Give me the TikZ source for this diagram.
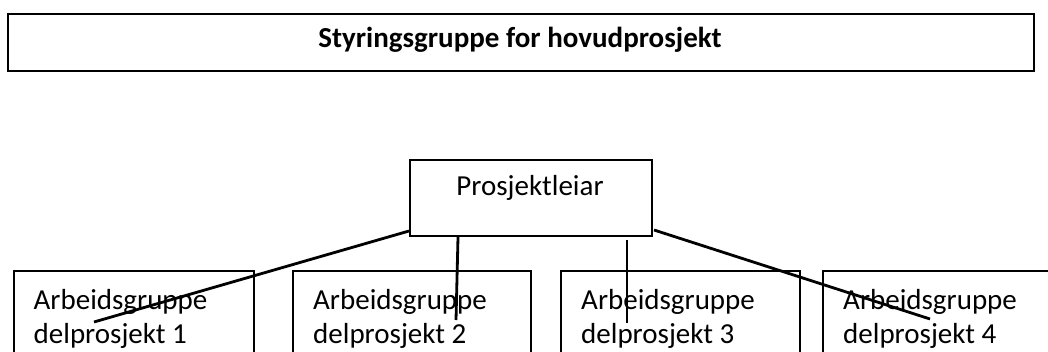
\documentclass[tikz,border=0pt]{standalone}
\usepackage{fontspec}
\setmainfont{Carlito}
\begin{document}
\begin{tikzpicture}[x=1pt,y=-1pt,
  frame/.style={draw=black, line width=1.7pt, fill=white, inner sep=0pt, anchor=north west},
  txt/.style={font=\fontsize{29}{33.5}\selectfont, inner sep=0pt, align=left},
  link/.style={line width=2.8pt, line cap=butt}]
\useasboundingbox (0,0) rectangle (1048,352);
\clip (0,0) rectangle (1048,352);
\fill[white] (0,0) rectangle (1048,352);
% top box
\node[frame, line width=2.3pt, minimum width=1026pt, minimum height=57pt] (top) at (7,13) {};
\node[txt, font=\fontsize{29}{33.5}\selectfont\bfseries, anchor=base] (title) at (520,48) {Styringsgruppe for hovudprosjekt};
% project leader
\node[frame, minimum width=242pt, minimum height=76pt] (pl) at (409,159) {};
\node[txt, anchor=base] (pltxt) at (530,196) {Prosjektleiar};
% work groups
\node[frame, minimum width=240pt, minimum height=110pt] (b1) at (13,270) {};
\node[frame, minimum width=238pt, minimum height=110pt] (b2) at (292,270) {};
\node[frame, minimum width=239pt, minimum height=110pt] (b3) at (560,270) {};
\node[frame, minimum width=250pt, minimum height=110pt] (b4) at (822,270) {};
\node[txt, anchor=base west] (t1) at (33.5,343) {Arbeidsgruppe\\delprosjekt 1};
\node[txt, anchor=base west] (t2) at (313,343) {Arbeidsgruppe\\delprosjekt 2};
\node[txt, anchor=base west] (t3) at (581,343) {Arbeidsgruppe\\delprosjekt 3};
\node[txt, anchor=base west] (t4) at (843,343) {Arbeidsgruppe\\delprosjekt 4};
% connector ends
\coordinate (s1) at (409,231);
\coordinate (e1) at (94,322);
\coordinate (s2) at (458,237);
\coordinate (e2) at (456,320);
\coordinate (s3) at (627,240);
\coordinate (e3) at (627,323);
\coordinate (s4) at (654,230);
\coordinate (e4) at (930,319);
\draw[link] (s1) -- (e1);
\draw[link] (s2) -- (e2);
\draw[link] (s3) -- (e3);
\draw[link] (s4) -- (e4);
\end{tikzpicture}
\end{document}
